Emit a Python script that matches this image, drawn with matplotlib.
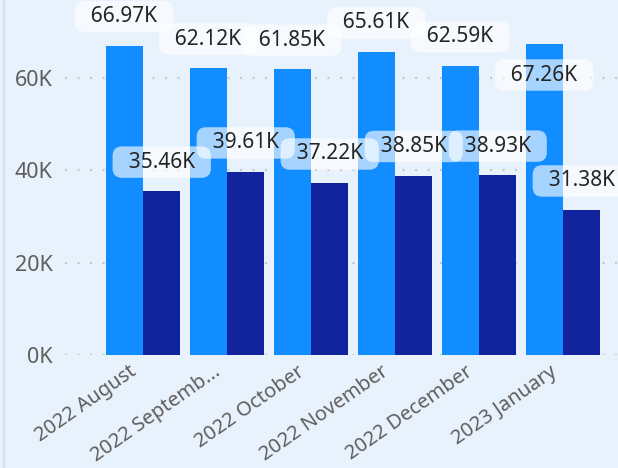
import matplotlib.pyplot as plt
from matplotlib.lines import Line2D
from matplotlib.transforms import ScaledTranslation

# --- data ---
months = ['2022 August', '2022 Septemb...', '2022 October',
          '2022 November', '2022 December', '2023 January']
series_a = [66.97, 62.12, 61.85, 65.61, 62.59, 67.26]   # thousands
series_b = [35.46, 39.61, 37.22, 38.85, 38.93, 31.38]   # thousands
y_ticks = [0, 20, 40, 60]

c_a = '#118DFF'
c_b = '#12239E'
c_bg = '#E8F2FD'
c_grid = '#C8C6C4'
c_tick = '#605E5C'
c_text = '#252423'

plt.rcParams['font.family'] = ['Noto Sans', 'DejaVu Sans']

fig = plt.figure(figsize=(6.18, 4.68), dpi=100)
fig.patch.set_facecolor(c_bg)
ax = fig.add_axes([65 / 618, 1 - 355 / 468, 1 - 65 / 618, 355 / 468])
ax.set_facecolor(c_bg)

x = list(range(len(months)))
w = 0.446
bars_a = ax.bar([i - w / 2 for i in x], series_a, width=w, color=c_a, zorder=2)
bars_b = ax.bar([i + w / 2 for i in x], series_b, width=w, color=c_b, zorder=2)

ax.set_xlim(-78 / 84, 475 / 84)
ax.set_ylim(0, 355 / 4.617)

ax.set_yticks(y_ticks)
ax.set_yticklabels([f'{v}K' for v in y_ticks])
ax.grid(axis='y', color=c_grid, linestyle=(0, (1, 5)), linewidth=1.5, zorder=0)
for s in ax.spines.values():
    s.set_visible(False)
ax.tick_params(axis='y', length=0, pad=9, labelsize=15.5, colors=c_tick)
ax.tick_params(axis='x', length=0, pad=5, labelsize=14.5, colors=c_tick)

ax.set_xticks(x)
ax.set_xticklabels(months, rotation=35, ha='right', rotation_mode='anchor')
shift = ScaledTranslation(-14 / 100, 0, fig.dpi_scale_trans)
for lab in ax.get_xticklabels():
    lab.set_transform(lab.get_transform() + shift)

# data labels in rounded translucent boxes
box = dict(boxstyle='round,pad=0.25,rounding_size=0.45', facecolor='white',
           edgecolor='none', alpha=0.63)
fig.canvas.draw()
for bars, vals in [(bars_a, series_a), (bars_b, series_b)]:
    for b, v in zip(bars, vals):
        cx = b.get_x() + b.get_width() / 2
        top_px = fig.bbox.height - ax.transData.transform((cx, v))[1]
        off = 21 if top_px - 29 >= 16 else -22  # points; inside if no room
        ax.annotate(f'  {v:.2f}K  ', (cx, v), xytext=(0, off),
                    textcoords='offset points', ha='center', va='center',
                    fontsize=15, color=c_text, bbox=box, zorder=5,
                    annotation_clip=False)

fig.add_artist(Line2D([4 / 618, 4 / 618], [0, 1], color='#CFE3F8', linewidth=1.5))

fig.savefig('out.png', dpi=100, facecolor=c_bg)
